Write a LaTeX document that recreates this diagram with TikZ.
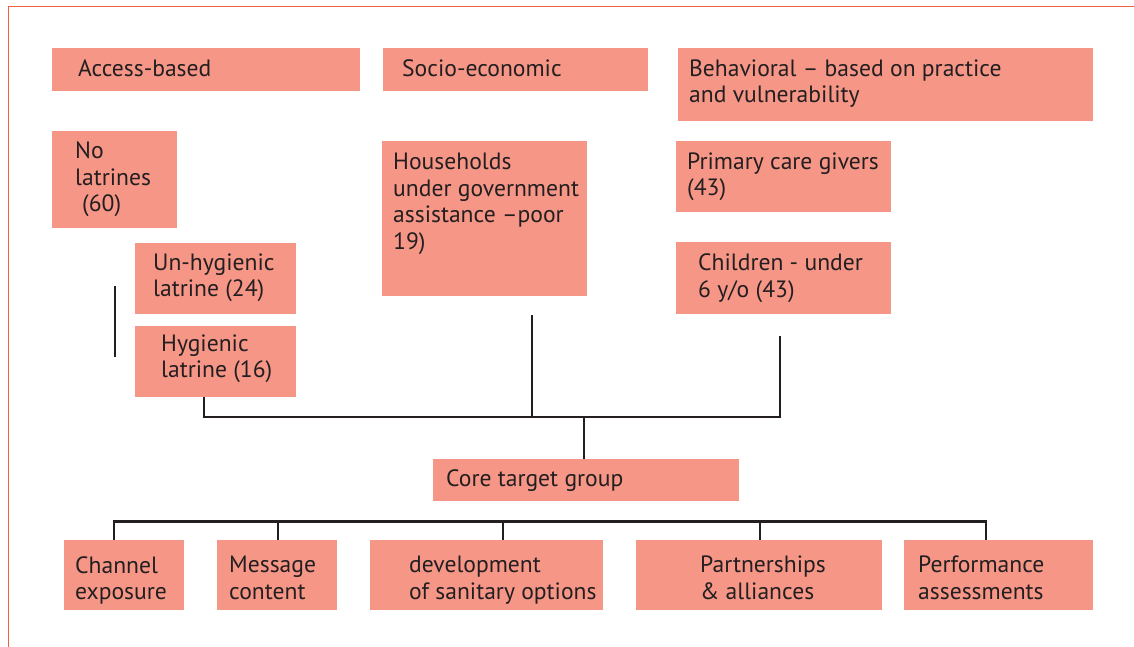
\documentclass[tikz,border=0pt]{standalone}
\usepackage{fontspec}
\setmainfont{PT Sans}
\usepackage{tikz}
\usetikzlibrary{positioning}
\usepackage{xcolor}
\definecolor{salmon}{RGB}{246,150,135}
\definecolor{framered}{RGB}{242,95,65}
\definecolor{ink}{RGB}{35,31,32}

\begin{document}
\begin{tikzpicture}[
        x=1pt, y=-1pt,
        box/.style={rectangle, fill=salmon, anchor=north west, inner sep=0pt},
        txt/.style={anchor=west, inner sep=0pt, align=left, text=ink,
                    font=\fontsize{23.6}{26.5}\selectfont},
        toptxt/.style={txt, anchor=north west},
        wire/.style={draw=ink, line width=2.4pt},
        frame/.style={draw=framered, line width=1.5pt}
      ]
      \useasboundingbox (0,0) rectangle (1134,647);
      % frame (top and left edge only)
      \coordinate (fa) at (1134,6.5);
      \coordinate (fb) at (8.5,6.5);
      \coordinate (fc) at (8.5,647);
      \draw[frame] (fa) -- (fb) -- (fc);

      % headings
      \node[box, minimum width=308, minimum height=43] (access) at (52,48) {};
      \node[txt] (accessT) at ([xshift=26,yshift=1]access.west) {Access-based};
      \node[box, minimum width=265, minimum height=43] (socio) at (383,48) {};
      \node[txt] (socioT) at ([xshift=19,yshift=1]socio.west) {Socio-economic};
      \node[box, minimum width=415, minimum height=73] (behav) at (678,48) {};
      \node[txt] (behavT) at ([xshift=11,yshift=1]behav.west) {Behavioral -- based on practice\\and vulnerability};

      % access-based groups
      \node[box, minimum width=125, minimum height=97] (nolat) at (52,131) {};
      \node[txt] (nolatT) at ([xshift=23]nolat.west) {No\\latrines\\\hspace*{7pt}(60)};
      \node[box, minimum width=161, minimum height=71] (unhyg) at (135,243) {};
      \node[txt] (unhygT) at ([xshift=18,yshift=1]unhyg.west) {Un-hygienic\\latrine (24)};
      \node[box, minimum width=161, minimum height=71] (hyg) at (135,326) {};
      \node[txt] (hygT) at ([xshift=26,yshift=3]hyg.west) {Hygienic\\latrine (16)};

      % socio-economic group
      \node[box, minimum width=205, minimum height=155] (house) at (382,141) {};
      \node[toptxt] (houseT) at ([xshift=11,yshift=-12]house.north west)
            {Households\\under government\\assistance --poor\\19)};

      % behavioral groups
      \node[box, minimum width=215, minimum height=71] (care) at (676,141) {};
      \node[txt] (careT) at ([xshift=11]care.west) {Primary care givers\\(43)};
      \node[box, minimum width=215, minimum height=72] (child) at (676,242) {};
      \node[txt] (childT) at ([xshift=22]child.west) {Children - under\\6 y/o (43)};

      % core group
      \node[box, minimum width=306, minimum height=42] (core) at (433,459) {};
      \node[txt] (coreT) at ([xshift=13]core.west) {Core target group};

      % activities
      \node[box, minimum width=120, minimum height=70] (chan) at (64,540) {};
      \node[toptxt] (chanT) at ([xshift=11,yshift=-16]chan.north west) {Channel\\exposure};
      \node[box, minimum width=120, minimum height=70] (msg) at (217,540) {};
      \node[toptxt] (msgT) at ([xshift=12,yshift=-16]msg.north west) {Message\\content};
      \node[box, minimum width=233, minimum height=70] (dev) at (370,540) {};
      \node[toptxt] (devT) at ([xshift=39,yshift=-16]dev.north west) {development\\of sanitary options};
      \node[box, minimum width=246, minimum height=70] (part) at (636,540) {};
      \node[toptxt] (partT) at ([xshift=64,yshift=-16]part.north west) {Partnerships\\\& alliances};
      \node[box, minimum width=189, minimum height=70] (perf) at (904,540) {};
      \node[toptxt] (perfT) at ([xshift=14,yshift=-16]perf.north west) {Performance\\assessments};

      % connectors to the core group
      \coordinate (la) at (115,286);
      \coordinate (lb) at (115,357);
      \coordinate (houseEnd) at (532,315);
      \coordinate (childEnd) at (780,336);
      \coordinate (join) at (584,417);
      \draw[wire] (la) -- (lb);
      \draw[wire] (hyg.south -| 204,0) |- (join) -| (childEnd);
      \draw[wire] (houseEnd) -- (houseEnd |- join);
      \draw[wire] (join) -- (core.north -| join);

      % bar over the activities
      \coordinate (barL) at (114,521.5);
      \coordinate (barR) at (986,521.5);
      \draw[wire] (chan.north -| barL) -- (barL) -- (barR) -- (perf.north -| barR);
      \draw[wire] (msg.north -| 278,0) -- (barL -| 278,0);
      \draw[wire] (dev.north -| 503,0) -- (barL -| 503,0);
      \draw[wire] (part.north -| 760,0) -- (barL -| 760,0);
\end{tikzpicture}
\end{document}
